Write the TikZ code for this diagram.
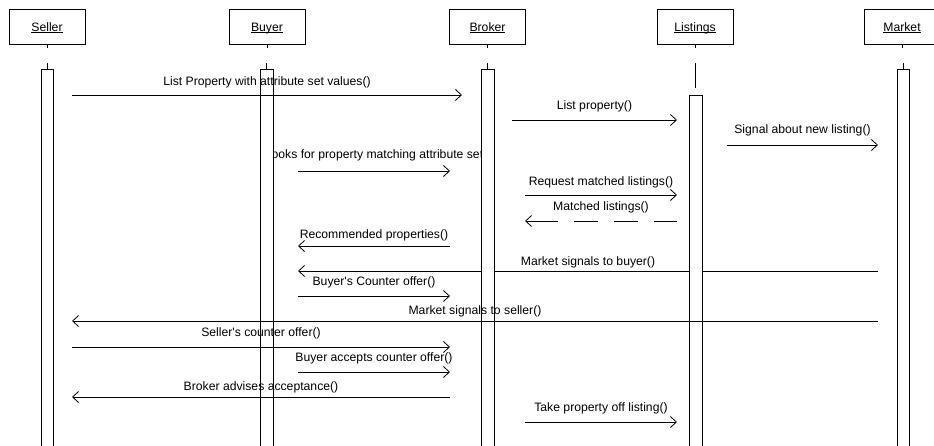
\documentclass[tikz,border=0pt]{standalone}
\usepackage{fontspec}
\setmainfont{Liberation Sans}
\usetikzlibrary{arrows.meta}
\newcommand{\hul}[1]{\setbox0\hbox{#1}\rlap{\rule[-1.8pt]{\wd0}{0.7pt}}\box0}
\begin{document}
\begin{tikzpicture}[x=1pt,y=-1pt,
  txt/.style={font=\fontsize{12.2}{14}\selectfont},
  hdr/.style={draw, line width=0.8pt, minimum width=76pt, minimum height=35pt, inner sep=0pt, text height=9pt, text depth=0pt, txt},
  lbl/.style={anchor=base, inner sep=0pt, txt},
  msg/.style={line width=0.8pt, -{Straight Barb[length=6pt,width=11pt]}},
  act/.style={draw, line width=0.8pt, fill=white},
  life/.style={line width=0.8pt}]
\useasboundingbox (0,0) rectangle (934,445);
% headers
\node[hdr] (seller) at (47,26.5) {\hul{Seller}};
\node[hdr] (buyer) at (267,26.5) {\hul{Buyer}};
\node[hdr] (broker) at (487.5,26.5) {\hul{Broker}};
\node[hdr] (listings) at (695,26.5) {\hul{Listings}};
\node[hdr] (market) at (902,26.5) {\hul{Market}};
% lifeline stubs
\foreach \n/\x in {seller/47,buyer/266.5,broker/487.5,listings/695.5,market/903}{
  \draw[life] (\n.south) -- ++(0,4);
}
\draw[life] (47,63) -- (47,69);
\draw[life] (266.5,63) -- (266.5,69);
\draw[life] (487.5,63) -- (487.5,69);
\draw[life] (695.5,63) -- (695.5,88);
\draw[life] (903,63) -- (903,69);
% message coordinates
\coordinate (m1s) at (72,95);   \coordinate (m1e) at (462,95);
\coordinate (m2s) at (512,120); \coordinate (m2e) at (677,120);
\coordinate (m3s) at (727,145); \coordinate (m3e) at (878,145);
\coordinate (m4s) at (298,171); \coordinate (m4e) at (450,171);
\coordinate (m6s) at (525,195); \coordinate (m6e) at (677,195);
\coordinate (m7s) at (677,221); \coordinate (m7e) at (525,221);
\coordinate (m5s) at (450,246); \coordinate (m5e) at (298,246);
\coordinate (m8s) at (878,271); \coordinate (m8e) at (298,271);
\coordinate (m9s) at (298,296); \coordinate (m9e) at (450,296);
\coordinate (m10s) at (878,321); \coordinate (m10e) at (72,321);
\coordinate (m11s) at (72,347); \coordinate (m11e) at (450,347);
\coordinate (m12s) at (298,372); \coordinate (m12e) at (450,372);
\coordinate (m13s) at (450,397); \coordinate (m13e) at (72,397);
\coordinate (m14s) at (525,422); \coordinate (m14e) at (677,422);
% items partly hidden behind activation boxes
\node[lbl] (l4) at (374,158) {Looks for property matching attribute set};
\draw[msg] (m8s) -- (m8e);
% activation boxes
\draw[act] (41,69) rectangle (53,455);
\draw[act] (260,69) rectangle (273,455);
\draw[act] (481,69) rectangle (494,455);
\draw[act] (689,95) rectangle (702,455);
\draw[act] (897,69) rectangle (909,455);
% messages
\draw[msg] (m1s) -- (m1e);
\node[lbl] (l1) at (267,85) {List Property with attribute set values()};
\draw[msg] (m2s) -- (m2e);
\node[lbl] (l2) at (594.5,109) {List property()};
\draw[msg] (m3s) -- (m3e);
\node[lbl] (l3) at (802.5,133) {Signal about new listing()};
\draw[msg] (m4s) -- (m4e);
\draw[msg] (m6s) -- (m6e);
\node[lbl] (l6) at (601,185) {Request matched listings()};
\draw[msg, dash pattern=on 23pt off 16pt on 24pt off 16pt on 24pt off 16pt on 40pt off 0pt] (m7s) -- (m7e);
\node[lbl] (l7) at (601,210) {Matched listings()};
\draw[msg] (m5s) -- (m5e);
\node[lbl] (l5) at (374,238) {Recommended properties()};
\node[lbl] (l8) at (588,265) {Market signals to buyer()};
\draw[msg] (m9s) -- (m9e);
\node[lbl] (l9) at (374,285) {Buyer\textquotesingle s Counter offer()};
\draw[msg] (m10s) -- (m10e);
\node[lbl] (l10) at (475,314) {Market signals to seller()};
\draw[msg] (m11s) -- (m11e);
\node[lbl] (l11) at (261,336) {Seller\textquotesingle s counter offer()};
\draw[msg] (m12s) -- (m12e);
\node[lbl] (l12) at (374,361) {Buyer accepts counter offer()};
\draw[msg] (m13s) -- (m13e);
\node[lbl] (l13) at (261,390) {Broker advises acceptance()};
\draw[msg] (m14s) -- (m14e);
\node[lbl] (l14) at (601,411) {Take property off listing()};
\end{tikzpicture}
\end{document}
